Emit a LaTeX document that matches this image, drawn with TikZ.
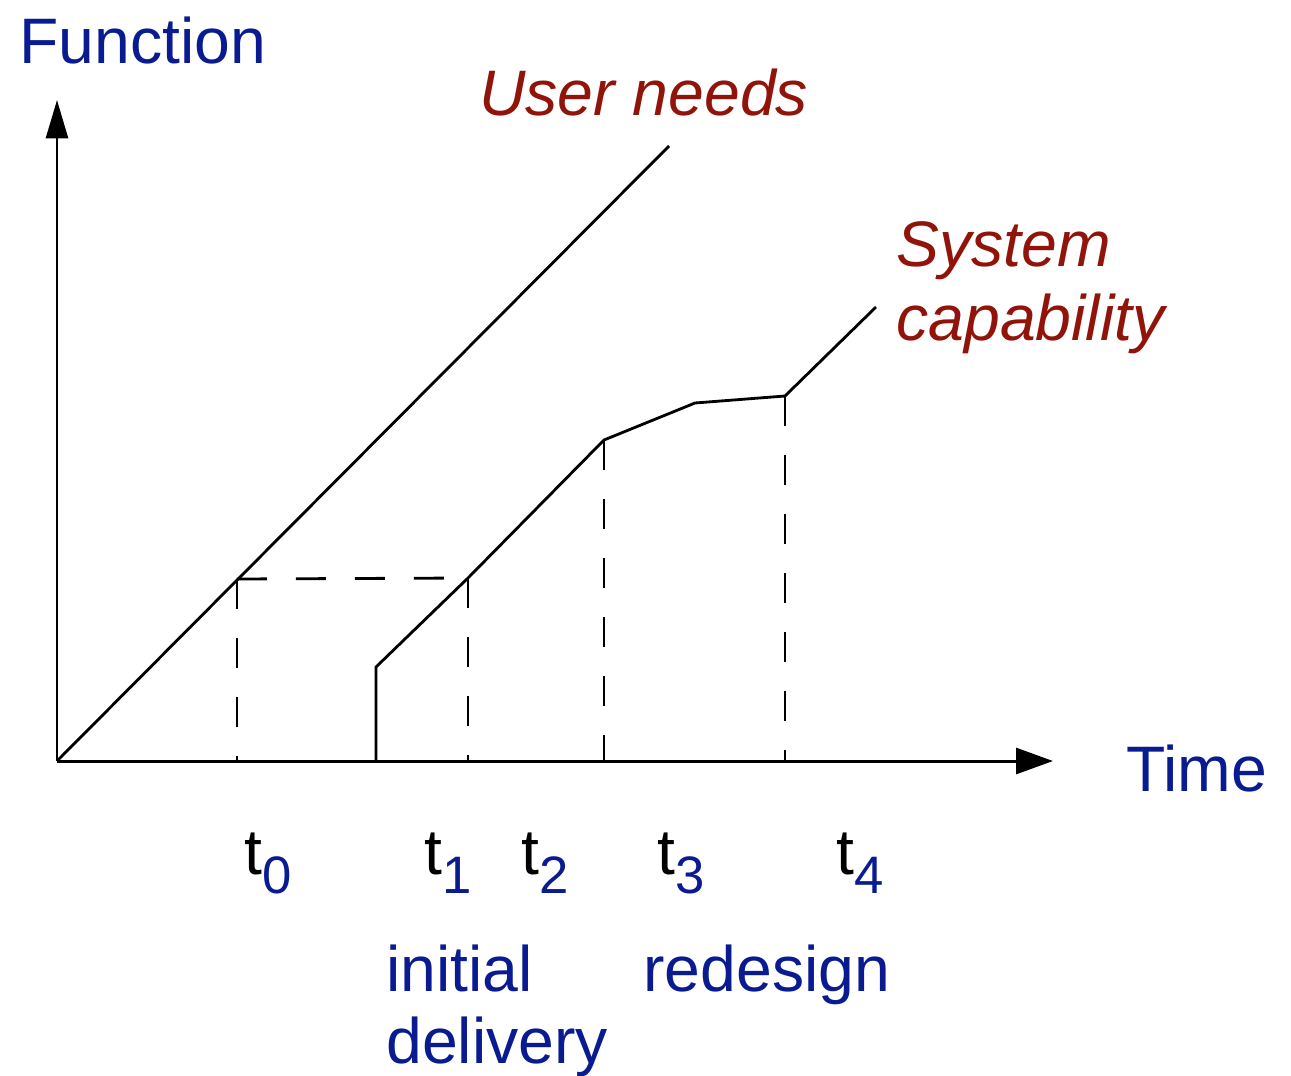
\documentclass[tikz,border=0pt]{standalone}
\usepackage{fontspec}
\setmainfont{Liberation Sans}
\usetikzlibrary{arrows.meta}
\definecolor{fblue}{RGB}{10,27,145}
\definecolor{fred}{RGB}{145,20,10}
\newcommand{\bigtext}{\fontsize{36.6}{41}\selectfont}
\newcommand{\tlab}[1]{t\raisebox{-0.38cm}{\fontsize{30}{32}\selectfont\color{fblue}#1}}
\begin{document}
\begin{tikzpicture}[x=0.02cm,y=-0.02cm,
  curve/.style={line width=1.6pt, line join=miter},
  guide/.style={line width=1.6pt, dash pattern=on 0.6cm off 0.58cm},
  axis/.style={line width=1.7pt},
  lbl/.style={anchor=base west, inner sep=0pt, font=\bigtext, text=fblue},
  redlbl/.style={anchor=base west, inner sep=0pt, font=\bigtext\itshape, text=fred},
  tl/.style={anchor=base west, inner sep=0pt, font=\bigtext, text=black}]
\useasboundingbox (0,0) rectangle (1291,1075);
% coordinates
\coordinate (O) at (57,761);
\coordinate (Ytip) at (57,100);
\coordinate (Xtip) at (1053,761);
\coordinate (U1) at (669,146);
\coordinate (A) at (237,579);
\coordinate (A0) at (237,761);
\coordinate (B) at (468,578);
\coordinate (B0) at (468,761);
\coordinate (S0) at (376,761);
\coordinate (S1) at (376,667);
\coordinate (C) at (604,440);
\coordinate (C0) at (604,761);
\coordinate (D) at (695,403);
\coordinate (E) at (785,396);
\coordinate (E0) at (785,761);
\coordinate (S2) at (876,307);
% axes
\draw[axis,-{Triangle[length=0.77cm,width=0.44cm]}] (O) -- (Ytip);
\draw[axis,-{Triangle[length=0.74cm,width=0.52cm]}] (O) -- (Xtip);
% user needs
\draw[curve] (O) -- (U1);
% system capability
\draw[curve] (S0) -- (S1) -- (B) -- (C) -- (D) -- (E) -- (S2);
% dashed guides
\draw[guide] (A) -- (A0);
\draw[guide] (A) -- (B);
\draw[guide] (B) -- (B0);
\draw[guide] (C) -- (C0);
\draw[guide] (E) -- (E0);
% labels
\node[lbl] (fn) at (19,63) {Function};
\node[lbl] (tm) at (1126,791) {Time};
\node[redlbl] (un) at (479,115) {User needs};
\node[redlbl] (sy) at (896,266) {System};
\node[redlbl] (ca) at (896,340) {capability};
\node[tl] (t0) at (244,874) {\tlab{0}};
\node[tl] (t1) at (424,874) {\tlab{1}};
\node[tl] (t2) at (521,874) {\tlab{2}};
\node[tl] (t3) at (657,874) {\tlab{3}};
\node[tl] (t4) at (836,874) {\tlab{4}};
\node[lbl] (ini) at (386,991) {initial};
\node[lbl] (del) at (386,1063) {delivery};
\node[lbl] (red) at (643,991) {redesign};
\end{tikzpicture}
\end{document}
